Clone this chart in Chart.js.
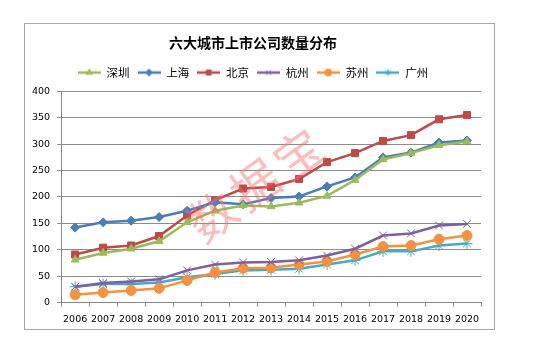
<!DOCTYPE html>
<html lang="zh">
<head>
    <meta charset="UTF-8">
    <title>六大城市上市公司数量分布</title>
    <script src="https://cdn.jsdelivr.net/npm/chart.js"></script>
    <style>
        body { margin: 0; background: #fff; width: 550px; height: 348px; position: relative; }
        .frame {
            position: absolute; left: 24px; top: 23px;
            width: 469px; height: 305px;
            border: 1px solid #a6a6a6;
        }
        .frame canvas { display: block; }
    </style>
</head>
<body>
    <div class="frame">
        <canvas id="cityChart" width="469" height="305"></canvas>
    </div>

    <script>
        // data
        const years = ['2006', '2007', '2008', '2009', '2010', '2011', '2012', '2013', '2014', '2015', '2016', '2017', '2018', '2019', '2020'];
        const shenzhen = [81, 94, 102, 116, 152, 174, 184, 182, 189, 202, 232, 271, 283, 298, 305];
        const shanghai = [142, 152, 155, 162, 174, 190, 186, 198, 201, 220, 237, 275, 284, 303, 307];
        const beijing = [91, 104, 108, 126, 165, 194, 216, 219, 234, 266, 283, 306, 317, 347, 355];
        const hangzhou = [30, 37, 40, 44, 61, 72, 76, 77, 80, 89, 102, 127, 131, 146, 149];
        const suzhou = [15, 19, 23, 27, 42, 57, 65, 66, 72, 78, 91, 106, 108, 120, 127];
        const guangzhou = [30, 35, 35, 38, 48, 54, 61, 62, 64, 72, 80, 97, 97, 108, 112];

        const cjk = '"Noto Sans CJK SC", "Noto Sans", sans-serif';
        const num = '"DejaVu Sans", sans-serif';

        const series = [
            { label: '深圳', data: shenzhen, color: '#9bbb59', style: 'triangle', r: 4.5 },
            { label: '上海', data: shanghai, color: '#4a7ebb', style: 'rectRot', r: 4.5 },
            { label: '北京', data: beijing, color: '#be4b48', style: 'rect', r: 5 },
            { label: '杭州', data: hangzhou, color: '#7d60a0', style: 'crossRot', r: 5.5 },
            { label: '苏州', data: suzhou, color: '#f59240', style: 'circle', r: 5 },
            { label: '广州', data: guangzhou, color: '#46aac5', style: 'star', r: 5.5 }
        ];

        // little line + marker pictures for the legend, Excel style
        function legendIcon(s) {
            const c = document.createElement('canvas');
            c.width = 23; c.height = 10;
            const g = c.getContext('2d');
            g.strokeStyle = s.color;
            g.fillStyle = s.color;
            g.lineWidth = 2.5;
            g.beginPath(); g.moveTo(0, 5); g.lineTo(23, 5); g.stroke();
            g.lineWidth = 1;
            Chart.helpers.drawPoint(g, {
                pointStyle: s.style, radius: 3.5, rotation: 0, borderWidth: 1
            }, 11.5, 5);
            return c;
        }

        // extra room under the legend, like the Excel original
        const legendGap = {
            id: 'legendGap',
            afterInit(chart) {
                const fit = chart.legend.fit;
                chart.legend.fit = function () {
                    fit.call(this);
                    this.height += 3;
                };
            }
        };

        const watermark = {
            id: 'watermark',
            afterDatasetsDraw(chart) {
                const ctx = chart.ctx;
                ctx.save();
                ctx.translate(230, 161);
                ctx.rotate(-36 * Math.PI / 180);
                ctx.fillStyle = 'rgba(243, 110, 110, 0.45)';
                ctx.font = '400 48px ' + cjk;
                ctx.textAlign = 'center';
                ctx.textBaseline = 'middle';
                const chars = ['数', '据', '宝'];
                chars.forEach((ch, i) => ctx.fillText(ch, (i - 1) * 53, 0));
                ctx.restore();
            }
        };

        const ctx = document.getElementById('cityChart').getContext('2d');

        const chart = new Chart(ctx, {
            type: 'line',
            data: {
                labels: years,
                datasets: series.map(s => ({
                    label: s.label,
                    data: s.data,
                    borderColor: s.color,
                    backgroundColor: s.color,
                    borderWidth: 2.5,
                    pointStyle: s.style,
                    pointRadius: s.r,
                    pointBorderColor: s.color,
                    pointBackgroundColor: s.color,
                    pointBorderWidth: 1,
                    tension: 0,
                    fill: false
                }))
            },
            options: {
                responsive: false,
                animation: false,
                layout: {
                    padding: { left: 0, right: 13, top: 8, bottom: -3 }
                },
                plugins: {
                    title: {
                        display: true,
                        text: '六大城市上市公司数量分布',
                        color: '#000',
                        font: { family: cjk, size: 14, weight: 'bold' },
                        padding: { top: 2, bottom: 8 }
                    },
                    legend: {
                        position: 'top',
                        labels: {
                            color: '#000',
                            font: { family: cjk, size: 11.5 },
                            usePointStyle: true,
                            pointStyleWidth: 23,
                            boxHeight: 10,
                            padding: 8,
                            generateLabels(chart) {
                                const items = Chart.defaults.plugins.legend.labels.generateLabels(chart);
                                items.forEach((it, i) => { it.pointStyle = legendIcon(series[i]); });
                                return items;
                            }
                        }
                    },
                    tooltip: { enabled: false }
                },
                scales: {
                    x: {
                        offset: true,
                        grid: {
                            offset: true,
                            drawOnChartArea: false,
                            drawTicks: true,
                            tickLength: 4,
                            color: '#868686'
                        },
                        border: { color: '#868686' },
                        ticks: {
                            color: '#000',
                            font: { family: num, size: 9.5 },
                            autoSkip: false,
                            maxRotation: 0,
                            padding: 7
                        }
                    },
                    y: {
                        min: 0,
                        max: 400,
                        grid: {
                            color: '#8c8c8c',
                            tickLength: 4
                        },
                        border: { color: '#868686' },
                        ticks: {
                            stepSize: 50,
                            color: '#000',
                            font: { family: num, size: 9.5 },
                            padding: 7
                        }
                    }
                }
            },
            plugins: [legendGap, watermark]
        });
    </script>
</body>
</html>
